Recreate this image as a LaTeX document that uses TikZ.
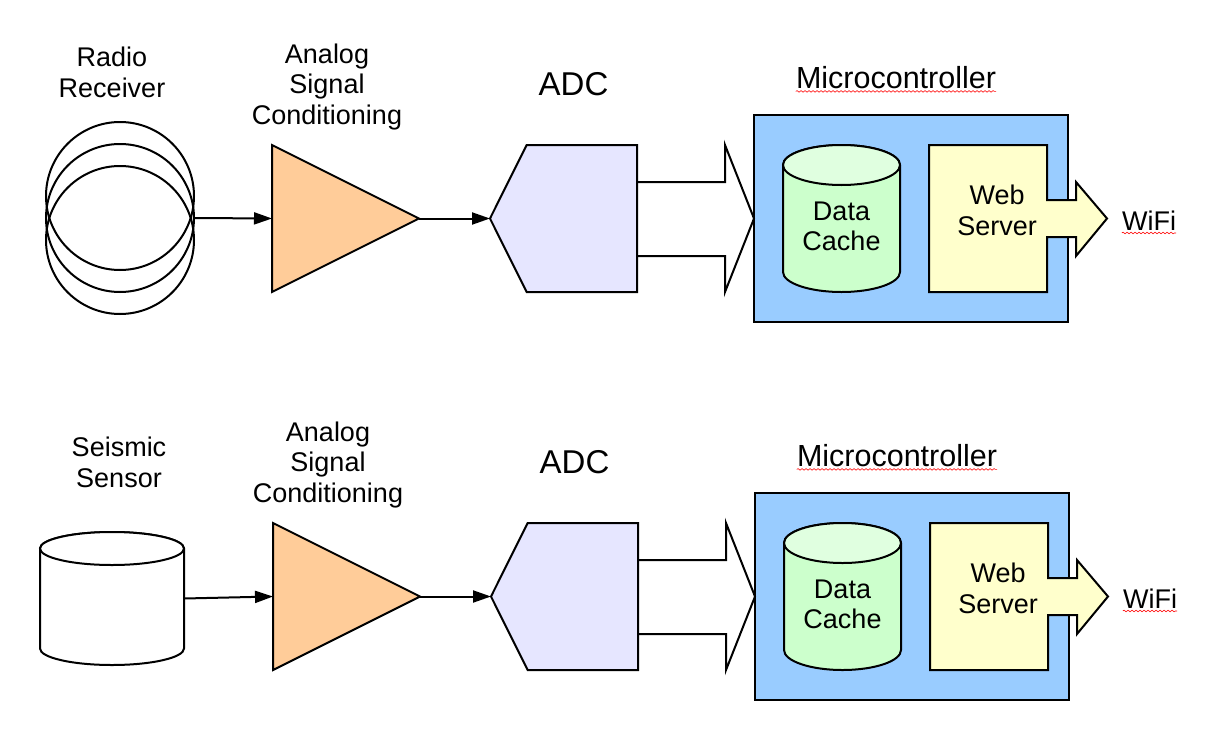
\documentclass[tikz,border=0pt]{standalone}
\usepackage{fontspec}
\setmainfont{Liberation Sans}
\usetikzlibrary{shapes.geometric,shapes.symbols,arrows.meta,decorations.pathmorphing}
\tikzset{
	basics/.style={draw=black, line width=2pt, inner sep=0pt, outer sep=0pt},
	label/.style={align=center, inner sep=0pt, font=\fontsize{27}{30.5}\selectfont},
	heading/.style={label, font=\fontsize{33}{36}\selectfont},
	chiptitle/.style={label, font=\fontsize{30.5}{34}\selectfont},
	amp/.style={isosceles triangle, isosceles triangle stretches, basics, minimum width=147pt, minimum height=147pt, fill=ampfill},
	adcbox/.style={signal, signal to=west, signal pointer angle=127, basics, minimum width=147pt, minimum height=147pt, fill=adcfill},
	chip/.style={rectangle, basics, minimum width=314pt, minimum height=207pt, fill=chipfill},
	drumframe/.style={rectangle, inner sep=0pt, outer sep=0pt},
	coil/.style={circle, basics, minimum size=148pt},
	bus/.style={basics, line join=miter},
	arrow/.style={line width=2pt, -{Triangle[length=18pt,width=12pt]}},
	squiggle/.style={red, line width=0.6pt, decorate, decoration={snake, amplitude=0.8pt, segment length=4pt}},
}
\definecolor{ampfill}{HTML}{FFCC99}
\definecolor{adcfill}{HTML}{E6E6FF}
\definecolor{chipfill}{HTML}{99CCFF}
\definecolor{cachefill}{HTML}{CCFFCC}
\definecolor{cachetop}{HTML}{E0FFE0}
\definecolor{webfill}{HTML}{FFFFCC}
% node name, x radius, y radius, body colour, lid colour
\newcommand{\drum}[5]{
\draw [basics, fill=#4] ([yshift=-#3pt]#1.north west) -- ([yshift=#3pt]#1.south west) arc [start angle=180, end angle=360, x radius=#2pt, y radius=#3pt] -- ([yshift=-#3pt]#1.north east) arc [start angle=0, end angle=180, x radius=#2pt, y radius=#3pt] -- cycle;
\draw [basics, fill=#5] ([yshift=-#3pt]#1.north) ellipse [x radius=#2pt, y radius=#3pt];
}

\begin{document}
\begin{tikzpicture}[x=1pt,y=-1pt]
\useasboundingbox (0,0) rectangle (1206,752);
\foreach \r/\dx/\dy in {top/0/0,low/1/378}{
\begin{scope}[shift={(\dx,\dy)}, name prefix=\r-]
\node (amp) [amp, anchor=lower side] at (272,218.5) {};
\node (amptext) [label] at (327,87) {Analog\\Signal\\Conditioning};
\node (adc) [adcbox, anchor=west] at (490,218.5) {};
\node (adctext) [heading] at (573.5,84) {ADC};
\node (chip) [chip] at (911,218.5) {};
\node (chiptext) [chiptitle] at (896,78) {Microcontroller};
\node (cache) [drumframe, left of=chip, node distance=69.5pt, minimum width=117pt, minimum height=147pt] {};
\drum{cache}{58.5}{20}{cachefill}{cachetop}
\node (cachetext) [label, below of=cache, node distance=8pt] {Data\\Cache};
\draw [basics, fill=webfill] (929,145) -- (1047,145) -- (1047,200) -- (1076,200) -- (1076,182) -- (1107,218.5) -- (1076,256) -- (1076,237) -- (1047,237) -- (1047,292) -- (929,292) -- cycle;
\node (webtext) [label] at (997,210.5) {Web\\Server};
\node (wifi) [label] at (1149,221) {WiFi};
\draw [bus] (637,182) -- (725,182) -- (725,145) -- (754,218.5) -- (725,292) -- (725,256) -- (637,256);
\draw [arrow] (amp.apex) -- (adc.west);
\draw [squiggle] ([yshift=-2pt]chiptext.south west) -- ([yshift=-2pt]chiptext.south east);
\draw [squiggle] ([yshift=-2pt]wifi.south west) -- ([yshift=-2pt]wifi.south east);
\end{scope}
}
%radio receiver
\foreach \i/\y in {a/196,b/218,c/240}
\node (coil\i) [coil] at (120,\y) {};
\node (radiotext) [label] at (112,72.5) {Radio\\Receiver};
\draw [arrow] (coilb.east) -- (top-amp.lower side);
%seismic sensor
\node (sensor) [drumframe, minimum width=144pt, minimum height=133pt] at (112,598.5) {};
\drum{sensor}{72}{16.5}{white}{white}
\node (sensortext) [label] at (119,462.5) {Seismic\\Sensor};
\draw [arrow] (sensor.east) -- (low-amp.lower side);
\end{tikzpicture}
\end{document}
